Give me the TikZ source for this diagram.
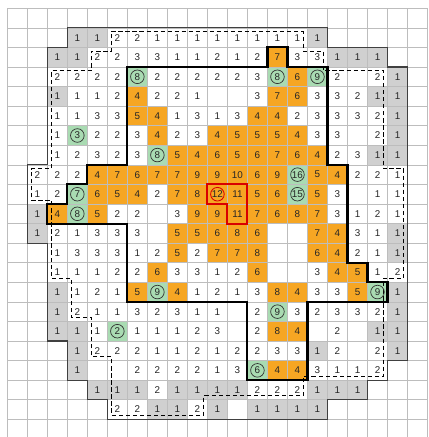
\documentclass[tikz,border=0pt]{standalone}
\usepackage{fontspec}
\setmainfont{Liberation Sans}
\usepackage{tikz}

\definecolor{cellorange}{HTML}{F6A623}
\definecolor{cellgreen}{HTML}{A9DBB2}
\definecolor{cellgray}{HTML}{D0D0D0}
\definecolor{gridgray}{HTML}{BDBDBD}

% row / {column/value/kind, ...}
\newcommand{\cellrows}{%
 1/{3/1/g,4/1/g,5/2/w,6/2/w,7/1/w,8/1/w,9/1/w,10/1/w,11/1/w,12/1/w,13/1/w,14/1/w,15/1/g},
 2/{2/1/g,3/1/g,4/2/w,5/2/w,6/3/w,7/3/w,8/1/w,9/1/w,10/2/w,11/1/w,12/2/w,13/7/o,14/3/w,15/3/w,16/1/g,17/1/g,18/1/g},
 3/{2/2/w,3/2/w,4/2/w,5/2/w,6/8/c,7/2/w,8/2/w,9/2/w,10/2/w,11/2/w,12/3/w,13/8/c,14/6/o,15/9/c,16/2/w,18/2/w,19/1/g},
 4/{2/1/g,3/1/w,4/1/w,5/2/w,6/4/o,7/2/w,8/2/w,9/1/w,12/3/w,13/7/o,14/6/o,15/3/w,16/3/w,17/2/w,18/1/g,19/1/g},
 5/{2/1/w,3/1/w,4/3/w,5/3/w,6/5/o,7/4/o,8/1/w,9/3/w,10/1/w,11/3/w,12/4/o,13/4/o,14/2/w,15/3/w,16/3/w,17/3/w,18/2/w,19/1/g},
 6/{2/1/w,3/3/c,4/2/w,5/2/w,6/3/w,7/4/o,8/2/w,9/3/w,10/4/o,11/5/o,12/5/o,13/5/o,14/4/o,15/3/w,16/3/w,18/2/w,19/1/g},
 7/{2/1/w,3/2/w,4/3/w,5/2/w,6/3/w,7/8/c,8/5/o,9/4/o,10/6/o,11/5/o,12/6/o,13/7/o,14/6/o,15/4/o,16/2/w,17/3/w,18/1/g,19/1/g},
 8/{1/2/w,2/2/w,3/2/w,4/4/o,5/7/o,6/6/o,7/7/o,8/7/o,9/9/o,10/9/o,11/10/o,12/6/o,13/9/o,14/16/c,15/5/o,16/4/o,17/2/w,18/2/w,19/1/w},
 9/{1/1/w,2/2/w,3/7/c,4/6/o,5/5/o,6/4/o,7/2/w,8/7/o,9/8/o,10/12/r,11/11/o,12/5/o,13/6/o,14/15/c,15/5/o,16/3/w,18/1/w,19/1/w},
 10/{1/1/g,2/4/o,3/8/c,4/5/o,5/2/w,6/2/w,8/3/w,9/9/o,10/9/o,11/11/o,12/7/o,13/6/o,14/8/o,15/7/o,16/3/w,17/1/w,18/2/w,19/1/w},
 11/{1/1/g,2/2/w,3/1/w,4/3/w,5/3/w,6/3/w,8/5/o,9/5/o,10/6/o,11/8/o,12/6/o,15/7/o,16/4/o,17/3/w,18/1/w,19/1/g},
 12/{2/1/w,3/3/w,4/3/w,5/3/w,6/1/w,7/2/w,8/5/o,9/2/w,10/7/o,11/7/o,12/8/o,15/6/o,16/4/o,17/2/w,18/1/w,19/1/g},
 13/{2/1/w,3/1/w,4/1/w,5/2/w,6/2/w,7/6/o,8/3/w,9/3/w,10/1/w,11/2/w,12/6/o,15/3/w,16/4/o,17/5/o,18/1/w,19/2/w},
 14/{2/1/g,3/1/w,4/2/w,5/1/w,6/5/o,7/9/c,8/4/o,9/1/w,10/2/w,11/1/w,12/3/w,13/8/o,14/4/o,15/3/w,16/3/w,17/5/o,18/9/c,19/1/g},
 15/{2/1/g,3/2/w,4/1/w,5/1/w,6/3/w,7/2/w,8/3/w,9/1/w,10/1/w,12/2/w,13/9/c,14/3/w,15/2/w,16/3/w,17/3/w,18/2/w,19/1/g},
 16/{2/1/g,3/1/g,4/1/w,5/2/c,6/1/w,7/1/w,8/1/w,9/2/w,10/3/w,12/2/w,13/8/o,14/4/o,16/2/w,18/1/g,19/1/g},
 17/{3/1/g,4/2/w,5/2/w,6/2/w,7/1/w,8/1/w,9/2/w,10/1/w,11/2/w,12/2/w,13/3/w,14/3/w,15/1/g,16/2/w,18/2/w,19/1/g},
 18/{3/1/g,6/2/w,7/2/w,8/2/w,9/2/w,10/1/w,11/3/w,12/6/c,13/4/o,14/4/o,15/3/w,16/1/w,17/1/w,18/2/w},
 19/{4/1/g,5/1/g,6/1/g,7/2/w,8/1/g,9/1/g,10/1/g,11/1/g,12/2/w,13/2/w,14/2/w,15/1/g,16/1/g,17/1/g},
 20/{5/2/w,6/2/w,7/1/g,8/1/g,9/2/w,10/1/g,12/1/g,13/1/g,14/1/g,15/1/g}%
}

\begin{document}
\begin{tikzpicture}[x=0.5cm, y=-0.489cm,
  bg w/.style={},
  bg g/.style={fill=cellgray},
  bg o/.style={fill=cellorange},
  bg c/.style={fill=cellgreen},
  bg r/.style={fill=cellorange},
  num/.style={font=\fontsize{7}{8}\selectfont, text=black!85, inner sep=0pt},
  num w/.style={num},
  num g/.style={num},
  num o/.style={num},
  num c/.style={num, circle, draw=black!80, line width=0.5pt, minimum size=0.34cm},
  num r/.style={num, circle, draw=red!85!black, line width=0.6pt, minimum size=0.34cm},
  gridline/.style={draw=gridgray, line width=0.4pt},
  outerring/.style={draw=black!75, line width=0.8pt},
  innerring/.style={draw=black, line width=1.5pt, line join=miter},
  redbox/.style={draw=red!85!black, line width=1.5pt},
  dashring/.style={draw=black, line width=0.7pt, dash pattern=on 3pt off 2pt}
]
  \useasboundingbox (-0.365,-0.424) rectangle (21.035,21.906);
  \fill[white] (-0.365,-0.424) rectangle (21.035,21.906);

  % Cell colours
  \foreach \rw/\cells in \cellrows {
    \foreach \cl/\val/\kind in \cells {
      \path[bg \kind] (\cl,\rw) rectangle ++(1,1);
    }
  }

  % Grid
  \foreach \i in {0,...,21}
    \draw[gridline] (\i,0) -- (\i,21.906);
  \foreach \j in {0,...,21}
    \draw[gridline] (0,\j) -- (21,\j);

  % Outer ring
  \draw[outerring] (3,1) -- (16,1) -- (16,2) -- (19,2) -- (19,3) -- (20,3) -- (20,18) -- (19,18)
    -- (19,19) -- (18,19) -- (18,20) -- (16,20) -- (16,21) -- (5,21) -- (5,20) -- (4,20) -- (4,19)
    -- (3,19) -- (3,17) -- (2,17) -- (2,12) -- (1,12) -- (1,8) -- (2,8) -- (2,2) -- (3,2) -- cycle;

  % Dashed ring
  \draw[dashring] (5.2,1.2) -- (14.8,1.2) -- (14.8,2.2) -- (15.8,2.2) -- (15.8,3.2) -- (18.8,3.2)
    -- (18.8,8.2) -- (19.8,8.2) -- (19.8,13.8) -- (18.8,13.8) -- (18.8,18.8) -- (14.8,18.8)
    -- (14.8,19.8) -- (9.8,19.8) -- (9.8,20.8) -- (5.2,20.8) -- (5.2,17.8) -- (4.2,17.8)
    -- (4.2,15.8) -- (3.2,15.8) -- (3.2,13.8) -- (2.2,13.8) -- (2.2,9.8) -- (1.2,9.8)
    -- (1.2,8.2) -- (2.2,8.2) -- (2.2,3.2) -- (4.2,3.2) -- (4.2,2.2) -- (5.2,2.2) -- cycle;

  % Inner region
  \draw[innerring] (6,3) -- (13,3) -- (13,2) -- (14,2) -- (14,3) -- (16,3) -- (16,8) -- (17,8)
    -- (17,13) -- (18,13) -- (18,14) -- (19,14) -- (19,15) -- (15,15) -- (15,19) -- (12,19)
    -- (12,15) -- (6,15) -- (6,11) -- (2,11) -- (2,10) -- (3,10) -- (3,9) -- (4,9) -- (4,8)
    -- (6,8) -- cycle;

  % Peak cells
  \draw[redbox] (10,9) -- (12,9) -- (12,11) -- (11,11) -- (11,10) -- (10,10) -- cycle;

  % Values
  \foreach \rw/\cells in \cellrows {
    \foreach \cl/\val/\kind in \cells {
      \node[num \kind] (n\cl-\rw) at (\cl+0.5,\rw+0.5) {\val};
    }
  }
\end{tikzpicture}
\end{document}
